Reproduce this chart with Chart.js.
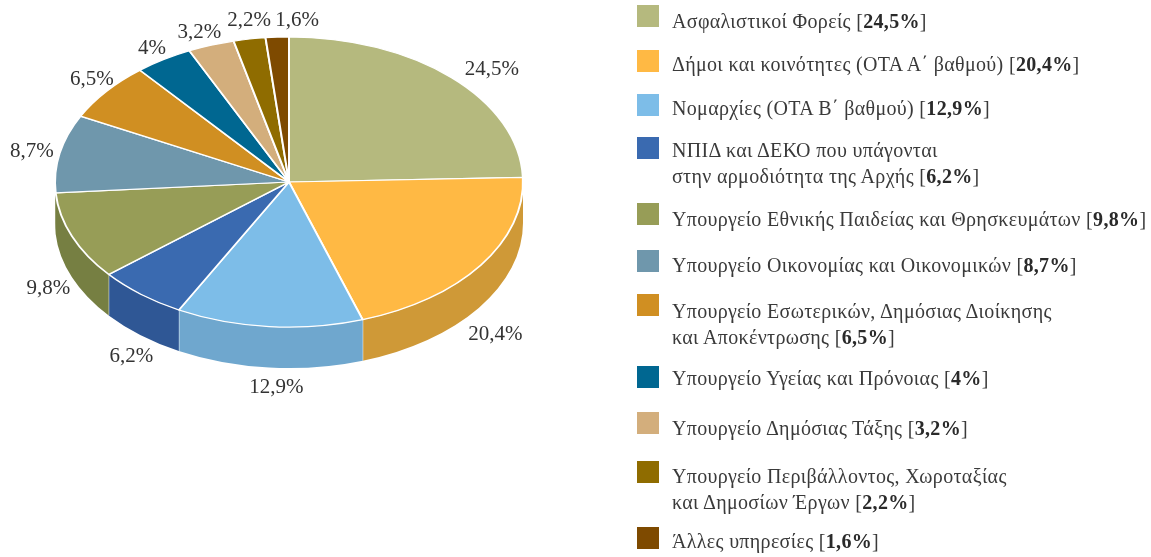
<!DOCTYPE html>
<html><head><meta charset="utf-8">
<script src="https://cdn.jsdelivr.net/npm/chart.js@4"></script>
<style>
html,body{margin:0;padding:0;background:#fff;width:1151px;height:557px;overflow:hidden}
#wrap{position:relative;width:1151px;height:557px}
canvas{position:absolute;left:0;top:0}
.sw{position:absolute;left:637px;width:22px;height:22px}
.lg{position:absolute;left:672px;font:20px/26px "Liberation Serif",serif;color:#3a3a3a;white-space:pre;letter-spacing:0.33px}
.lg b{color:#2a2a2a}
</style></head><body>
<div id="wrap"><canvas id="c" width="1151" height="557"></canvas></div>
<script>
const values=[24.5,20.4,12.9,6.2,9.8,8.7,6.5,4,3.2,2.2,1.6];
const valueLabels=["24,5%","20,4%","12,9%","6,2%","9,8%","8,7%","6,5%","4%","3,2%","2,2%","1,6%"];
const categories=[
 ["Ασφαλιστικοί Φορείς"],
 ["Δήμοι και κοινότητες (ΟΤΑ Α΄ βαθμού)"],
 ["Νομαρχίες (ΟΤΑ Β΄ βαθμού)"],
 ["ΝΠΙΔ και ΔΕΚΟ που υπάγονται","στην αρμοδιότητα της Αρχής"],
 ["Υπουργείο Εθνικής Παιδείας και Θρησκευμάτων"],
 ["Υπουργείο Οικονομίας και Οικονομικών"],
 ["Υπουργείο Εσωτερικών, Δημόσιας Διοίκησης","και Αποκέντρωσης"],
 ["Υπουργείο Υγείας και Πρόνοιας"],
 ["Υπουργείο Δημόσιας Τάξης"],
 ["Υπουργείο Περιβάλλοντος, Χωροταξίας","και Δημοσίων Έργων"],
 ["Άλλες υπηρεσίες"]];
const topColors=["#B5B97E","#FFB944","#7DBDE8","#3A6AB0","#979D57","#6F97AC","#D08F22","#006791","#D3AE7C","#8F6C00","#7E4A00"];
const sideColors=["#919563","#CF9937","#6FA7CE","#2F5795","#767F42","#767F42","#A8741B","#005475","#AB8D64","#735700","#663C00"];
const legendTops=[5,50,94,137,203,250,294,366,412,461,527];
const legendTextTops=[8,51,95,137,206,252,298,365,415,463,528];
const labelNudges=[[26,3],[-2,19],[9,4],[3,9],[-5,5],[-8,1],[1,-2],[-1,2],[-5,2],[3,-3],[21,-1]];

const SQUASH=0.62, CY=182, DEPTH=41, GAPX=20, GAPY=16;

const wrap=document.getElementById('wrap');
categories.forEach((lines,i)=>{
  const s=document.createElement('div');s.className='sw';s.style.top=legendTops[i]+'px';s.style.background=topColors[i];wrap.appendChild(s);
  const t=document.createElement('div');t.className='lg';t.style.top=legendTextTops[i]+'px';
  lines.forEach((ln,j)=>{
    t.appendChild(document.createTextNode(ln));
    if(j<lines.length-1)t.appendChild(document.createElement('br'));
  });
  t.appendChild(document.createTextNode(' ['));
  const b=document.createElement('b');b.textContent=valueLabels[i];t.appendChild(b);
  t.appendChild(document.createTextNode(']'));
  wrap.appendChild(t);
});

const tilt={
  id:'tilt',
  beforeDatasetsDraw(chart){
    const ctx=chart.ctx, arcs=chart.getDatasetMeta(0).data;
    const a0=arcs[0], r=a0.outerRadius, ry=r*SQUASH, cx=a0.x;
    ctx.save();
    arcs.forEach((arc,i)=>{
      const s=Math.max(arc.startAngle,0), e=Math.min(arc.endAngle,Math.PI);
      if(e<=s)return;
      ctx.beginPath();
      ctx.ellipse(cx,CY,r,ry,0,s,e,false);
      ctx.ellipse(cx,CY+DEPTH,r,ry,0,e,s,true);
      ctx.closePath();
      ctx.fillStyle=sideColors[i];ctx.fill();
      ctx.strokeStyle='#fff';ctx.lineWidth=1;
      if(arc.endAngle<Math.PI && Math.cos(e)>-0.98){
        ctx.beginPath();
        const x=cx+r*Math.cos(e), y=CY+ry*Math.sin(e);
        ctx.moveTo(x,y);ctx.lineTo(x,y+DEPTH);ctx.stroke();
      }
    });
    ctx.restore();
    ctx.save();
    ctx.translate(0,CY-a0.y*SQUASH);
    ctx.scale(1,SQUASH);
  },
  afterDatasetsDraw(chart){
    chart.ctx.restore();
    const ctx=chart.ctx, arcs=chart.getDatasetMeta(0).data;
    ctx.save();
    ctx.font='21px "Liberation Serif", serif';
    ctx.fillStyle='#333';ctx.textAlign='center';ctx.textBaseline='middle';
    arcs.forEach((arc,i)=>{
      const m=(arc.startAngle+arc.endAngle)/2, r=arc.outerRadius;
      const x=arc.x+(r+GAPX)*Math.cos(m)+labelNudges[i][0];
      const y=CY+(r*SQUASH+GAPY)*Math.sin(m)+(Math.sin(m)>0?DEPTH:0)+labelNudges[i][1];
      ctx.fillText(valueLabels[i],x,y);
    });
    ctx.restore();
  }
};

new Chart(document.getElementById('c'),{
  type:'pie',
  data:{labels:categories.map(c=>c.join(' ')),datasets:[{data:values,backgroundColor:topColors,borderColor:'#fff',borderWidth:2,hoverOffset:0}]},
  options:{
    responsive:false,animation:false,events:[],
    layout:{padding:{left:54,right:627,top:43,bottom:43}},
    plugins:{legend:{display:false},tooltip:{enabled:false}}
  },
  plugins:[tilt]
});
</script></body></html>
